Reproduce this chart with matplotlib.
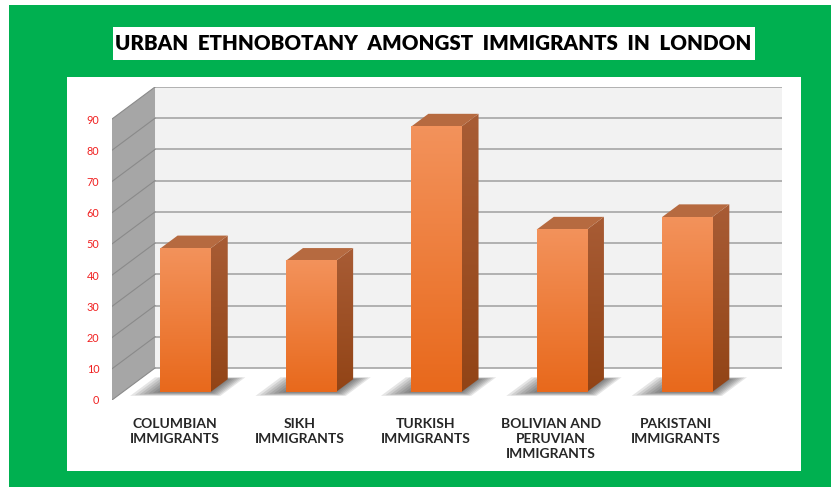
import matplotlib
matplotlib.use("Agg")
import matplotlib.pyplot as plt
import numpy as np
from matplotlib.patches import Polygon, Rectangle
from matplotlib.colors import LinearSegmentedColormap

plt.rcParams['font.family'] = ['Lato', 'DejaVu Sans']

# data
categories = ["COLUMBIAN\nIMMIGRANTS", "SIKH\nIMMIGRANTS", "TURKISH\nIMMIGRANTS",
              "BOLIVIAN AND\nPERUVIAN\nIMMIGRANTS", "PAKISTANI\nIMMIGRANTS"]
values = [46, 42, 85, 52, 56]
yticks = list(range(0, 100, 10))
title = "URBAN  ETHNOBOTANY  AMONGST  IMMIGRANTS  IN  LONDON"

W, H = 831, 487
fig = plt.figure(figsize=(W / 100, H / 100), dpi=100)
fig.patch.set_facecolor('white')

def px_rect(x0, y0, x1, y1, color, z=0):
    # rectangle given in pixels from the top left corner
    r = Rectangle((x0 / W, 1 - y1 / H), (x1 - x0) / W, (y1 - y0) / H,
                  transform=fig.transFigure, facecolor=color, edgecolor='none', zorder=z)
    fig.add_artist(r)

px_rect(9, 5, W, H, '#00B050')          # green frame
px_rect(67, 77, 801, 471, 'white')      # chart area
px_rect(113, 27, 755, 60, 'white')      # title box
fig.text(433 / W, 1 - 44 / H, title, ha='center', va='center',
         fontsize=14.8, fontweight='heavy', color='black')

# 3d look: oblique projection, full depth vector in data units
DX, DY = 0.343, 10.25
ymax = 90
xmin, xmax = -0.5, len(values) - 0.5

ax = fig.add_axes([112 / W, 87 / H, 670 / W, 313 / H])
ax.set_xlim(xmin, xmax + DX)
ax.set_ylim(0, ymax + DY)
ax.patch.set_alpha(0)
for s in ax.spines.values():
    s.set_visible(False)

# back wall + gridlines
ax.add_patch(Polygon([(xmin + DX, DY), (xmax + DX, DY), (xmax + DX, ymax + DY), (xmin + DX, ymax + DY)],
                     facecolor='#F2F2F2', edgecolor='none', zorder=1))
for v in yticks:
    ax.plot([xmin + DX, xmax + DX], [v + DY, v + DY], color='#A6A6A6', lw=1.2, zorder=2)

# side wall + gridlines
ax.add_patch(Polygon([(xmin, 0), (xmin + DX, DY), (xmin + DX, ymax + DY), (xmin, ymax)],
                     facecolor='#A6A6A6', edgecolor='none', zorder=2))
for v in yticks:
    ax.plot([xmin, xmin + DX], [v, v + DY], color='#8A8A8A', lw=0.8, zorder=3)

front_cmap = LinearSegmentedColormap.from_list('front', ['#E8691C', '#F3925B'])
side_cmap = LinearSegmentedColormap.from_list('side', ['#924416', '#A85C35'])
grad = np.linspace(1, 0, 64).reshape(-1, 1)

bw = 0.4          # bar width
f0, f1 = 0.25, 0.65   # bar depth range

for i, v in enumerate(values):
    x0 = i - bw / 2 + f0 * DX
    x1 = i + bw / 2 + f0 * DX
    y0 = f0 * DY
    y1 = v + f0 * DY
    ddx, ddy = (f1 - f0) * DX, (f1 - f0) * DY

    # soft shadow on the floor
    for s in np.linspace(1, 0.1, 7):
        el, er, ed = 0.2 * s, 0.12 * s, 0.12 * s
        a, b = f0 - ed, f1 + ed * 0.5
        cx0, cx1 = i - bw / 2 - el, i + bw / 2 + er
        ax.add_patch(Polygon([(cx0 + a * DX, a * DY), (cx1 + a * DX, a * DY),
                              (cx1 + b * DX, b * DY), (cx0 + b * DX, b * DY)],
                             facecolor='#303030', edgecolor='none', alpha=0.12, zorder=4))

    # side face
    side = Polygon([(x1, y0), (x1 + ddx, y0 + ddy), (x1 + ddx, y1 + ddy), (x1, y1)],
                   facecolor='none', edgecolor='none', transform=ax.transData)
    im = ax.imshow(grad, extent=[x1, x1 + ddx, y0, y1 + ddy], aspect='auto',
                   cmap=side_cmap, vmin=0, vmax=1, zorder=5, interpolation='bilinear')
    im.set_clip_path(side)
    # top face
    ax.add_patch(Polygon([(x0, y1), (x1, y1), (x1 + ddx, y1 + ddy), (x0 + ddx, y1 + ddy)],
                         facecolor='#B66A40', edgecolor='none', zorder=5))
    # front face
    ax.imshow(grad, extent=[x0, x1, y0, y1], aspect='auto', cmap=front_cmap,
              vmin=0, vmax=1, zorder=6, interpolation='bilinear')

ax.set_xlim(xmin, xmax + DX)
ax.set_ylim(0, ymax + DY)

ax.set_yticks(yticks)
ax.tick_params(axis='y', length=0, pad=9, labelcolor='#F02020', labelsize=7.8)
ax.set_xticks(range(len(categories)))
ax.set_xticklabels(categories, fontsize=10, fontweight='bold', color='#262626', linespacing=1.3)
ax.tick_params(axis='x', length=0, pad=13)

fig.savefig('out.png', dpi=100)
